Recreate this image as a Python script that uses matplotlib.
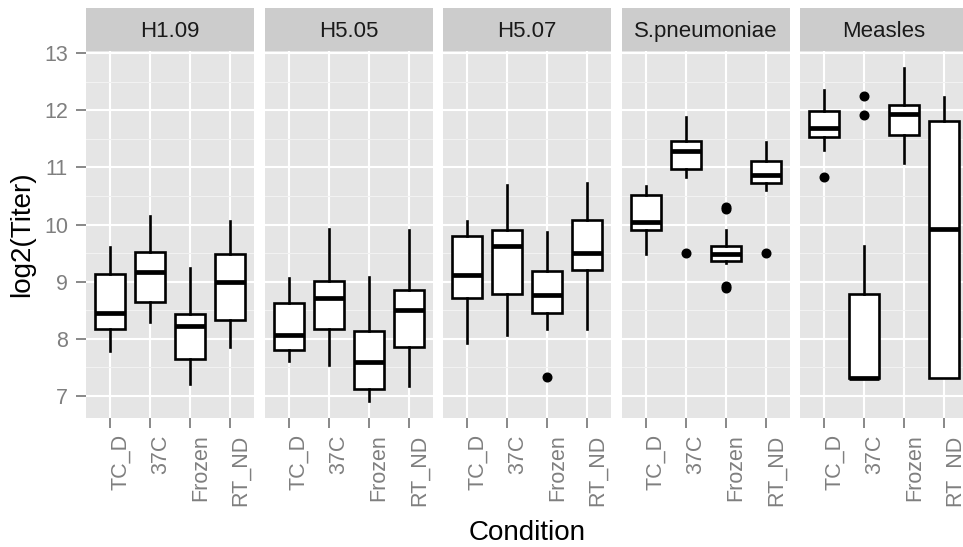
import matplotlib
matplotlib.use("Agg")
import matplotlib.pyplot as plt
from matplotlib.ticker import MultipleLocator

plt.rcParams['font.family'] = ['Liberation Sans', 'DejaVu Sans']

panels = ["H1.09", "H5.05", "H5.07", "S.pneumoniae", "Measles"]
conditions = ["TC_D", "37C", "Frozen", "RT_ND"]

# per panel, per condition (TC_D, 37C, Frozen, RT_ND)
whisker_low = [
    [7.79, 8.29, 7.21, 7.86],
    [7.61, 7.55, 6.91, 7.17],
    [7.92, 8.07, 8.17, 8.17],
    [9.49, 10.83, 9.32, 10.60],
    [11.30, 7.32, 11.08, 7.32],
]
q1 = [
    [8.18, 8.64, 7.64, 8.33],
    [7.80, 8.18, 7.13, 7.85],
    [8.71, 8.78, 8.46, 9.21],
    [9.91, 10.98, 9.36, 10.72],
    [11.54, 7.32, 11.57, 7.32],
]
median = [
    [8.445, 9.17, 8.22, 9.00],
    [8.07, 8.72, 7.59, 8.50],
    [9.11, 9.62, 8.76, 9.51],
    [10.05, 11.29, 9.49, 10.87],
    [11.69, 7.32, 11.94, 9.93],
]
q3 = [
    [9.14, 9.52, 8.43, 9.49],
    [8.63, 9.01, 8.14, 8.86],
    [9.80, 9.90, 9.18, 10.08],
    [10.52, 11.46, 9.63, 11.12],
    [11.99, 8.79, 12.09, 11.81],
]
whisker_high = [
    [9.61, 10.15, 9.24, 10.06],
    [9.07, 9.93, 9.09, 9.91],
    [10.06, 10.70, 9.87, 10.72],
    [10.67, 11.88, 9.91, 11.45],
    [12.35, 9.62, 12.74, 12.23],
]
outliers = [
    [[], [], [], []],
    [[], [], [], []],
    [[], [], [7.34], []],
    [[], [9.51], [10.27, 10.31, 8.89, 8.93], [9.51]],
    [[10.83], [12.25, 11.91], [], []],
]

W, H = 963, 547
fig = plt.figure(figsize=(W / 100, H / 100), dpi=100)
fig.patch.set_facecolor('white')

panel_left = [86, 264.5, 443, 621.5, 800]
panel_w = 168
top_px, bot_px, strip_top = 51.4, 417.7, 8.3
tick_grey = '#7F7F7F'

for i, name in enumerate(panels):
    l = panel_left[i]
    ax = fig.add_axes([l / W, 1 - bot_px / H, panel_w / W, (bot_px - top_px) / H])
    ax.set_facecolor('#E5E5E5')
    for s in ax.spines.values():
        s.set_visible(False)
    ax.set_axisbelow(True)
    stats = []
    for j, c in enumerate(conditions):
        stats.append(dict(whislo=whisker_low[i][j], q1=q1[i][j], med=median[i][j],
                          q3=q3[i][j], whishi=whisker_high[i][j], fliers=outliers[i][j]))
    ax.bxp(stats, positions=[1, 2, 3, 4], widths=0.75, showcaps=False, patch_artist=True,
           boxprops=dict(facecolor='white', edgecolor='black', linewidth=1.9),
           medianprops=dict(color='black', linewidth=3.4, solid_capstyle='butt'),
           whiskerprops=dict(color='black', linewidth=1.9),
           flierprops=dict(marker='o', markerfacecolor='black', markeredgecolor='black',
                           markersize=6.2, linestyle='none'))
    ax.set_xlim(0.4, 4.6)
    ax.set_ylim(6.62, 13.03)
    ax.set_yticks([7, 8, 9, 10, 11, 12, 13])
    ax.yaxis.set_minor_locator(MultipleLocator(0.5))
    ax.grid(which='major', color='white', linewidth=1.5)
    ax.grid(which='minor', axis='y', color='#F2F2F2', linewidth=0.8)
    ax.set_xticks([1, 2, 3, 4])
    ax.set_xticklabels(conditions, rotation=90, ha='left', va='top')
    ax.tick_params(axis='x', which='major', length=7, width=1.3, color=tick_grey,
                   labelcolor=tick_grey, labelsize=15.5, pad=5)
    ax.tick_params(axis='y', which='major', length=7 if i == 0 else 0, width=1.3,
                   color=tick_grey, labelcolor=tick_grey, labelsize=15.5, pad=6,
                   labelleft=(i == 0))
    ax.tick_params(axis='both', which='minor', length=0)

    sax = fig.add_axes([l / W, 1 - top_px / H, panel_w / W, (top_px - strip_top) / H])
    sax.set_facecolor('#CCCCCC')
    for s in sax.spines.values():
        s.set_visible(False)
    sax.set_xticks([])
    sax.set_yticks([])
    sax.text(0.5, 0.47, name, ha='center', va='center', fontsize=16, color='#1A1A1A',
             transform=sax.transAxes)

fig.text(22 / W, 1 - 234 / H, 'log2(Titer)', rotation=90, ha='center', va='center',
         fontsize=20, color='black')
fig.text(527 / W, 1 - 546 / H, 'Condition', ha='center', va='bottom',
         fontsize=20, color='black')

fig.savefig('out.png', dpi=100)
